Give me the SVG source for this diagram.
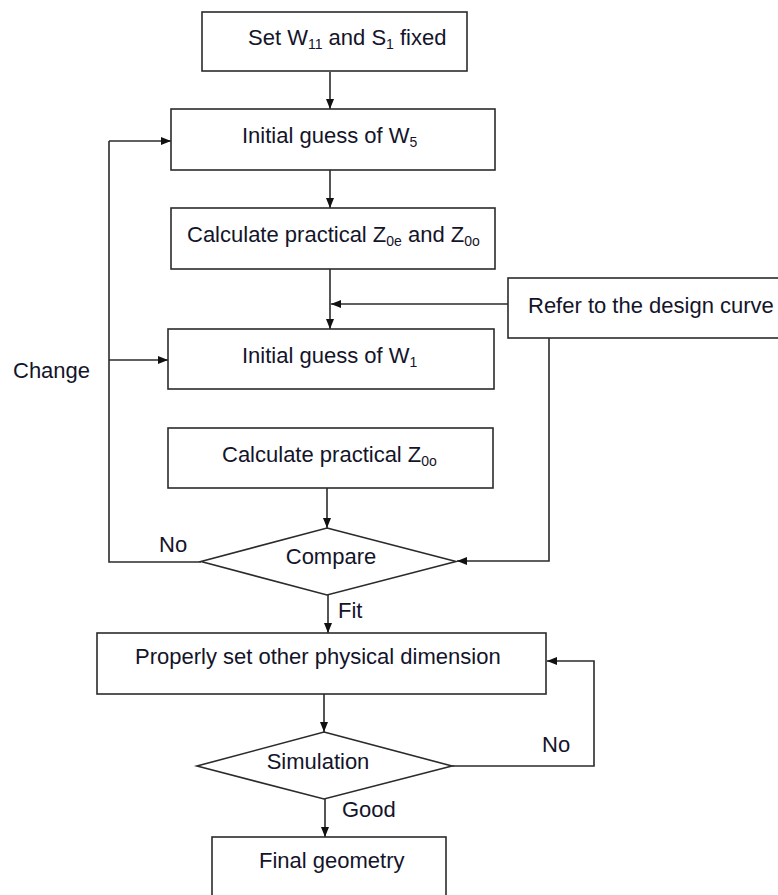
<svg xmlns="http://www.w3.org/2000/svg" width="778" height="895" viewBox="0 0 778 895">
  <style>
    .box { fill: #ffffff; stroke: #2b2b2b; stroke-width: 1.6; }
    .line { fill: none; stroke: #2b2b2b; stroke-width: 1.6; marker-end: url(#arrow); }
    .plain { fill: none; stroke: #2b2b2b; stroke-width: 1.6; }
    text { font-family: "Liberation Sans", Arial, sans-serif; font-size: 22px; fill: #14142a; }
    .sub { font-size: 14px; }
    .mid { text-anchor: middle; }
  </style>
  <defs>
    <marker id="arrow" markerWidth="10" markerHeight="8" refX="10" refY="4" orient="auto" markerUnits="userSpaceOnUse">
      <path d="M0,0 L10,4 L0,8 Z" fill="#111"/>
    </marker>
  </defs>
  <rect width="778" height="895" fill="#ffffff"/>

  <!-- connectors -->
  <g id="connectors">
    <line class="line" x1="330" y1="72" x2="330" y2="109"/>
    <line class="line" x1="330" y1="170" x2="330" y2="208"/>
    <line class="line" x1="330" y1="269" x2="330" y2="329"/>
    <line class="line" x1="508" y1="304" x2="331" y2="304"/>
    <line class="line" x1="327" y1="488" x2="327" y2="528"/>
    <!-- Change loop -->
    <polyline class="plain" points="201,562 109,562 109,141"/>
    <line class="line" x1="109" y1="141" x2="171" y2="141"/>
    <line class="line" x1="109" y1="360" x2="168" y2="360"/>
    <!-- design curve to compare -->
    <polyline class="line" points="549,338 549,561 457,561"/>
    <line class="line" x1="328" y1="595" x2="328" y2="633"/>
    <line class="line" x1="324" y1="694" x2="324" y2="732"/>
    <!-- simulation retry loop -->
    <polyline class="line" points="452,766 594,766 594,661 547,661"/>
    <line class="line" x1="325" y1="799" x2="325" y2="837"/>
  </g>

  <g id="set-fixed">
    <rect class="box" x="202" y="12" width="265" height="59"/>
    <text x="248" y="45">Set W<tspan class="sub" dy="4">11</tspan><tspan dy="-4"> and S</tspan><tspan class="sub" dy="4">1</tspan><tspan dy="-4"> fixed</tspan></text>
  </g>

  <g id="guess-w5">
    <rect class="box" x="171" y="109" width="324" height="61"/>
    <text x="242" y="143">Initial guess of W<tspan class="sub" dy="4">5</tspan></text>
  </g>

  <g id="calc-z0e-z0o">
    <rect class="box" x="171" y="208" width="324" height="61"/>
    <text x="187" y="242">Calculate practical Z<tspan class="sub" dy="4">0e</tspan><tspan dy="-4"> and Z</tspan><tspan class="sub" dy="4">0o</tspan></text>
  </g>

  <g id="design-curve">
    <rect class="box" x="508" y="278" width="290" height="60"/>
    <text x="528" y="313">Refer to the design curve</text>
  </g>

  <g id="guess-w1">
    <rect class="box" x="168" y="329" width="326" height="60"/>
    <text x="242" y="363">Initial guess of W<tspan class="sub" dy="4">1</tspan></text>
  </g>

  <g id="calc-z0o">
    <rect class="box" x="168" y="428" width="325" height="60"/>
    <text x="222" y="462">Calculate practical Z<tspan class="sub" dy="4">0o</tspan></text>
  </g>

  <g id="compare">
    <polygon class="box" points="327,528 456,561.5 327,595 201,561.5"/>
    <text class="mid" x="331" y="564">Compare</text>
  </g>

  <g id="labels">
    <text x="13" y="378">Change</text>
    <text x="159" y="552">No</text>
    <text x="338" y="618">Fit</text>
    <text x="542" y="752">No</text>
    <text x="342" y="817">Good</text>
  </g>

  <g id="set-dimensions">
    <rect class="box" x="97" y="633" width="449" height="61"/>
    <text x="135" y="664">Properly set other physical dimension</text>
  </g>

  <g id="simulation">
    <polygon class="box" points="324,732 452,766 324,799 197,766"/>
    <text class="mid" x="318" y="769">Simulation</text>
  </g>

  <g id="final-geometry">
    <rect class="box" x="212" y="837" width="234" height="70"/>
    <text x="259" y="868">Final geometry</text>
  </g>
</svg>
